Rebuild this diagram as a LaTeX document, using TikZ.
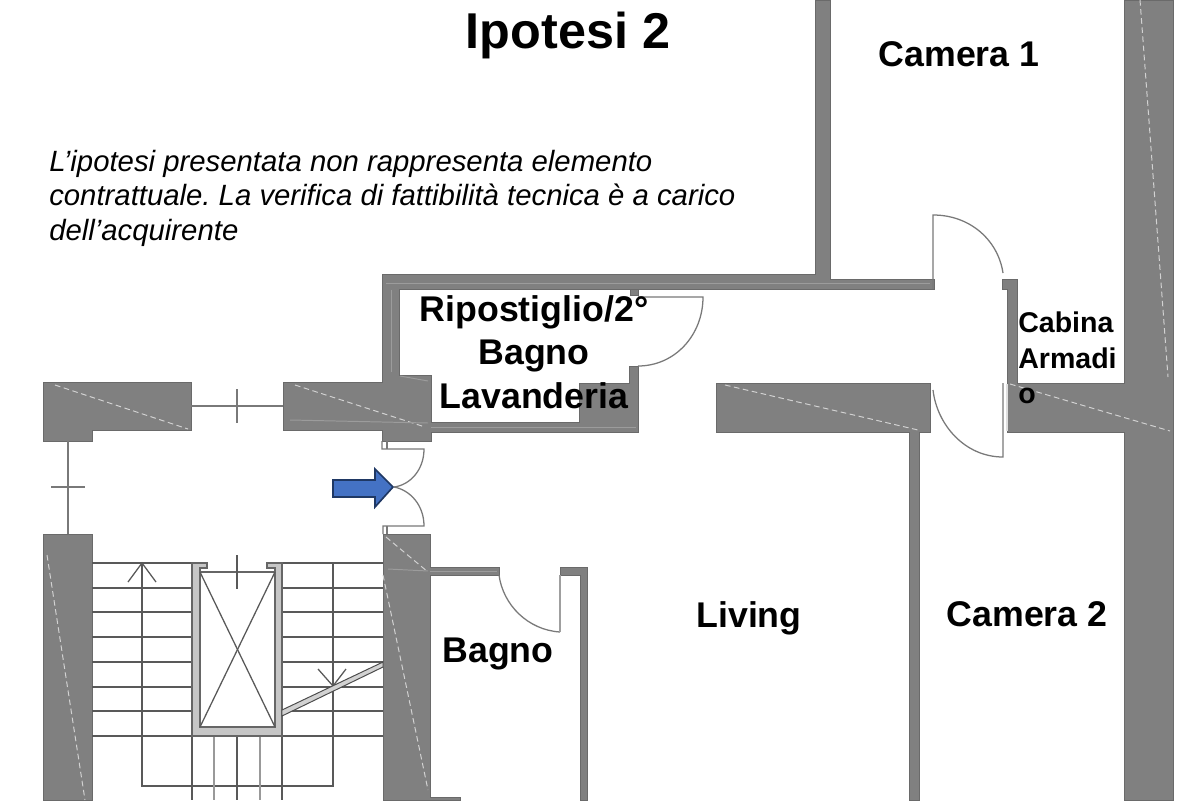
\documentclass[tikz,border=0pt]{standalone}
\usepackage{fontspec}
\setmainfont{Liberation Sans}
\definecolor{wallgray}{HTML}{808080}
\definecolor{walledge}{HTML}{6A6A6A}
\definecolor{arrowblue}{HTML}{4472C4}
\definecolor{arrowedge}{HTML}{1F3864}
\tikzset{
x=0.025cm, % one unit is one pixel of the plan
y=-0.025cm,
wall/.style={fill=wallgray, draw=walledge, line width=0.7pt}, % sets the properties for each wall
hatch/.style={draw=gray!35, dashed, line width=0.7pt, dash pattern=on 4pt off 2.5pt}, % light lines inside the walls
seam/.style={draw=gray!78, line width=0.7pt},
thin line/.style={draw=gray!95!black, line width=0.9pt}, % doors and windows
stair/.style={draw=black!65, line width=0.9pt},
room/.style={font=\bfseries\fontsize{25.4}{31}\selectfont, align=center},
}

\begin{document}
\begin{tikzpicture}
    \useasboundingbox[fill=white] (0,0) rectangle (1200,800);

    % walls
    \draw[wall] (382,274) -- (815,274) -- (815,0) -- (830,0) -- (830,279) -- (934,279) -- (934,289) -- (399,289) -- (399,375) -- (431,375) -- (431,422) -- (579,422) -- (579,383) -- (629,383) -- (629,366) -- (638,366) -- (638,432) -- (431,432) -- (431,441) -- (382,441) -- (382,430) -- (283,430) -- (283,382) -- (382,382) -- cycle;
    \draw[wall] (630,289) rectangle (638,295);
    \draw[wall] (43,382) -- (191,382) -- (191,430) -- (92,430) -- (92,441) -- (43,441) -- cycle;
    \draw[wall] (716,383) -- (930,383) -- (930,432) -- (919,432) -- (919,800) -- (909,800) -- (909,432) -- (716,432) -- cycle;
    \draw[wall] (1002,279) -- (1017,279) -- (1017,383) -- (1124,383) -- (1124,0) -- (1173,0) -- (1173,800) -- (1124,800) -- (1124,432) -- (1007,432) -- (1007,289) -- (1002,289) -- cycle;
    \draw[wall] (43,534) rectangle (92,800);
    \draw[wall] (383,534) -- (430,534) -- (430,567) -- (499,567) -- (499,575) -- (430,575) -- (430,797) -- (460,797) -- (460,800) -- (383,800) -- cycle;
    \draw[wall] (560,567) -- (587,567) -- (587,800) -- (580,800) -- (580,575) -- (560,575) -- cycle;

    % lines inside the walls
    \draw[hatch] (55,385) -- (188,429);
    \draw[hatch] (295,385) -- (425,427);
    \draw[hatch] (725,385) -- (918,430);
    \draw[hatch] (1010,384) -- (1170,431);
    \draw[hatch] (1140,0) -- (1168,377);
    \draw[hatch] (47,555) -- (85,800);
    \draw[hatch] (383,575) -- (428,790);
    \draw[hatch] (386,537) -- (428,572);
    \draw[seam] (290,420) -- (428,423);
    \draw[seam] (386,283) -- (930,283);
    \draw[seam] (391,290) -- (391,372);
    \draw[seam] (400,376) -- (428,381);
    \draw[seam] (431,427) -- (636,427);
    \draw[seam] (388,569) -- (428,571);
    \draw[seam] (430,571) -- (497,571);

    % windows
    \draw[thin line] (191,406) -- (283,406);
    \draw[thin line] (237,389) -- (237,423);
    \draw[thin line] (68,441) -- (68,534);
    \draw[thin line] (51,487) -- (85,487);

    % doors
    \draw[thin line] (638,297) -- (703,297) .. controls (703,335) and (675,366) .. (638,366);
    \draw[thin line] (933,289) -- (933,215) .. controls (970,215) and (998,240) .. (1003,273);
    \draw[thin line] (933,390) .. controls (937,425) and (965,457) .. (1003,457) -- (1003,383);
    \draw[draw=gray!25, line width=0.9pt] (1007,384) -- (1007,431);
    \draw[thin line] (382,441) -- (382,449) -- (424,449) .. controls (424,470) and (410,485) .. (394,487);
    \draw[thin line] (387,441) -- (387,449);
    \draw[thin line] (394,487) .. controls (410,490) and (424,505) .. (424,526) -- (383,526) -- (383,534);
    \draw[thin line] (387,526) -- (387,534);
    \draw[thin line] (499,575) .. controls (503,605) and (528,630) .. (560,632);
    \draw[draw=gray!75, line width=1.6pt] (560,632) -- (560,575);

    % stairs
    \foreach \y in {563, 588, 612, 637, 662, 687, 711, 736} {
        \draw[stair] (92,\y) -- (192,\y);
        \draw[stair] (282,\y) -- (383,\y);
    }
    \draw[stair] (142,563) -- (142,786) -- (333,786) -- (333,563);
    \draw[stair] (128,582) -- (142,563) -- (156,582);
    \draw[stair] (318,669) -- (333,686) -- (346,669);
    \foreach \x in {192, 237, 282} \draw[stair] (\x,736) -- (\x,800);
    \foreach \x in {214, 260} \draw[draw=gray!80, line width=1.4pt] (\x,736) -- (\x,800);

    % lift shaft
    \draw[draw=black!60, fill=gray!45, line width=0.8pt] (192,563) -- (207,563) -- (207,568) -- (200,568) -- (200,727) -- (275,727) -- (275,568) -- (267,568) -- (267,563) -- (282,563) -- (282,736) -- (192,736) -- cycle;
    \draw[draw=black!60, line width=0.8pt] (200,572) rectangle (275,727);
    \draw[stair] (200,572) -- (275,727);
    \draw[stair] (275,572) -- (200,727);
    \draw[stair] (237,555) -- (237,589);
    \draw[draw=black!70, fill=gray!35, line width=0.7pt] (282,710) -- (383,662) -- (383,667) -- (282,716) -- cycle;

    % entrance arrow
    \draw[draw=arrowedge, fill=arrowblue, line width=1.2pt] (333,480) -- (375,480) -- (375,469) -- (393,487) -- (375,507) -- (375,497) -- (333,497) -- cycle;

    % texts
    \node[font=\bfseries\fontsize{35.8}{40}\selectfont] (title) at (568,35) {Ipotesi 2};
    \node[anchor=north west, inner sep=0pt, align=left, font=\itshape\fontsize{20.85}{24.5}\selectfont\frenchspacing] (notice) at (49,150) {L’ipotesi presentata non rappresenta elemento\\contrattuale. La verifica di fattibilità tecnica è a carico\\dell’acquirente};
    \node[room] (camera1) at (959,54) {Camera 1};
    \node[room] (camera2) at (1027,614) {Camera 2};
    \node[room] (living) at (749,618) {Living};
    \node[room] (bagno) at (498,654) {Bagno};
    \node[room] (ripostiglio) at (534,352) {Ripostiglio/2°\\Bagno\\Lavanderia};
    \node[anchor=north west, inner sep=0pt, align=left, font=\bfseries\fontsize{20.3}{25}\selectfont] (cabina) at (1018,312) {Cabina\\Armadi\\o};
\end{tikzpicture}
\end{document}
